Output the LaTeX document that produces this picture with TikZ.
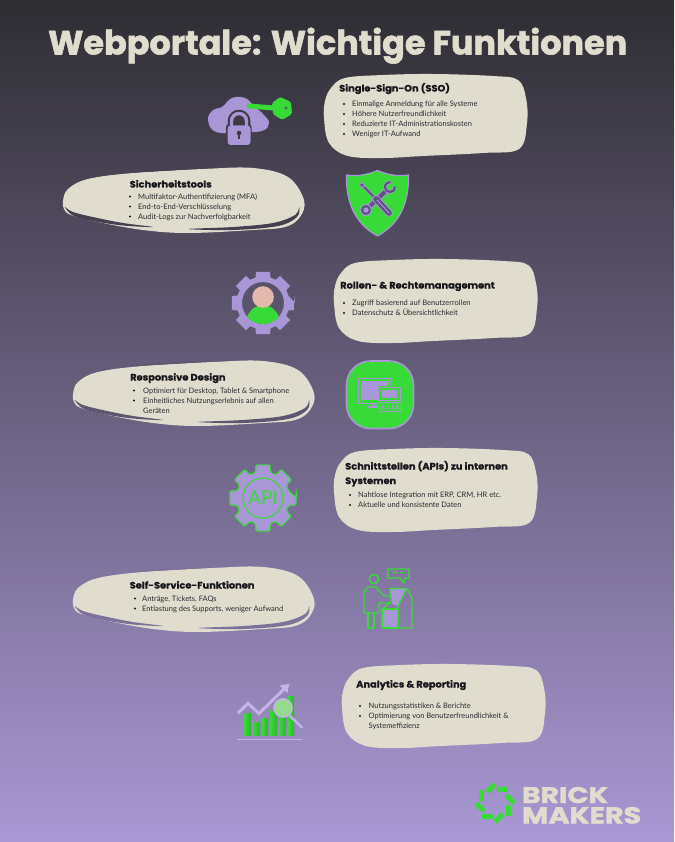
\documentclass[tikz,border=0pt]{standalone}
\usepackage{fontspec}
\setmainfont{Lato}
\newfontfamily\headfont{Poppins}[BoldFont=* Bold]
\newfontfamily\heavyfont{Poppins}[UprightFont=* Bold,FakeBold=1.6]
\newfontfamily\wideheavy{Poppins}[UprightFont=* Bold,FakeBold=0.9,FakeStretch=1.06]
\definecolor{bgtop}{HTML}{2E2D32}
\definecolor{bgbot}{HTML}{A998D4}
\definecolor{cream}{HTML}{E0DDCE}
\definecolor{lav}{HTML}{A996D6}
\definecolor{lavlight}{HTML}{C4B4EA}
\definecolor{grn}{HTML}{38DA38}
\definecolor{grndark}{HTML}{2DB52D}
\definecolor{ink}{HTML}{16161C}
\definecolor{body}{HTML}{2A282E}
\definecolor{toolc}{HTML}{5F5384}
\definecolor{skin}{HTML}{E3B9AE}
\definecolor{iconbg}{HTML}{3D3A44}
\tikzset{
 head/.style={anchor=base west,inner sep=0pt,font=\wideheavy\fontsize{9.3}{11}\selectfont,text=ink},
 itemtxt/.style={anchor=base west,inner sep=0pt,font=\fontsize{7.5}{10}\selectfont,text=body},
 bul/.style={circle,fill=ink,inner sep=0pt,minimum size=2.4pt},
}
\newcommand{\sqblob}[2]{%
 \fill[cream,shift={(#1,#2)}] plot[smooth cycle,tension=.6] coordinates {(8,15)(22,5)(60,2)(110,1)(170,3)(195,7)(203,25)(204,50)(196,76)(160,80)(100,83)(60,85)(25,83)(6,70)(1,45)(2,28)};}
\newcommand{\ovblob}[3]{%
 \begin{scope}[shift={(#1,#2)}]
 \fill[cream] plot[smooth cycle,tension=.6] coordinates {(0,34)(5,22)(25,12)(70,6)(140,2)(190,1)(225,10)(241,33)(237,50)(222,60)(190,63)(125,66)(80,63)(35,55)(8,48)(1,42)};
 \fill[#3] plot[smooth cycle,tension=.6] coordinates {(56,6)(90,2.8)(135,1.5)(100,4)};
 \fill[#3] plot[smooth cycle,tension=.6] coordinates {(2,40)(10,45)(32,50.5)(60,56)(90,60)(60,58.5)(30,54)(10,48.5)};
 \fill[#3] plot[smooth cycle,tension=.6] coordinates {(125,62)(170,60)(210,56)(232,48)(236,40)(234,50)(215,59)(170,63)};
 \end{scope}}
\newcommand{\mygear}[3]{% tip radius, base radius, half angle
 (0:#1)
 \foreach \a in {0,45,...,315}{
  -- (\a-#3:#1) -- (\a+#3:#1) -- (\a+#3+3:#2) -- (\a+45-#3-3:#2)
 } -- cycle}
\begin{document}
\begin{tikzpicture}[x=1pt,y=-1pt]
\useasboundingbox (0,0) rectangle (674,842);
\shade[top color=bgtop,bottom color=bgbot] (0,0) rectangle (674,842);

% title
\node[anchor=base west,inner sep=0pt,text=cream] (title) at (48,54.5) {\resizebox{579pt}{!}{\heavyfont Webportale: Wichtige Funktionen}};

% blobs
\sqblob{323}{73}
\ovblob{63}{167}{bgtop!82!bgbot}
\sqblob{333}{258}
\ovblob{73}{360}{bgtop!62!bgbot}
\sqblob{333}{447}
\ovblob{73}{566}{bgtop!35!bgbot}
\sqblob{341}{663}

% SSO
\node[head] (h1) at (339,91.5) {Single-Sign-On (SSO)};
\node[bul] (b11) at (344,104) {}; \node[itemtxt] (t11) at (352,106.7) {Einmalige Anmeldung für alle Systeme};
\node[bul] (b12) at (344,114) {}; \node[itemtxt] (t12) at (352,116.7) {Höhere Nutzerfreundlichkeit};
\node[bul] (b13) at (344,124) {}; \node[itemtxt] (t13) at (352,126.7) {Reduzierte IT-Administrationskosten};
\node[bul] (b14) at (344,134) {}; \node[itemtxt] (t14) at (352,136.7) {Weniger IT-Aufwand};
% Sicherheit
\node[head] (h2) at (129.5,187.5) {Sicherheitstools};
\node[bul] (b21) at (130,196.5) {}; \node[itemtxt] (t21) at (138,199.2) {Multifaktor-Authentifizierung (MFA)};
\node[bul] (b22) at (130,206.5) {}; \node[itemtxt] (t22) at (138,209.2) {End-to-End-Verschlüsselung};
\node[bul] (b23) at (130,216.5) {}; \node[itemtxt] (t23) at (138,219.2) {Audit-Logs zur Nachverfolgbarkeit};
% Rollen
\node[head] (h3) at (340,288.5) {Rollen- \& Rechtemanagement};
\node[bul] (b31) at (344,303) {}; \node[itemtxt] (t31) at (352,305.7) {Zugriff basierend auf Benutzerrollen};
\node[bul] (b32) at (344,313) {}; \node[itemtxt] (t32) at (352,315.7) {Datenschutz \& Übersichtlichkeit};
% Responsive
\node[head] (h4) at (130,380.5) {Responsive Design};
\node[bul] (b41) at (134,390.5) {}; \node[itemtxt] (t41) at (143,393.2) {Optimiert für Desktop, Tablet \& Smartphone};
\node[bul] (b42) at (134,400.5) {}; \node[itemtxt] (t42) at (143,403.2) {Einheitliches Nutzungserlebnis auf allen};
\node[itemtxt] (t43) at (143,413.2) {Geräten};
% API
\node[head] (h5) at (345,469.5) {Schnittstellen (APIs) zu internen};
\node[head] (h5b) at (345,484) {Systemen};
\node[bul] (b51) at (350,495) {}; \node[itemtxt] (t51) at (358,497.7) {Nahtlose Integration mit ERP, CRM, HR etc.};
\node[bul] (b52) at (350,505) {}; \node[itemtxt] (t52) at (358,507.7) {Aktuelle und konsistente Daten};
% Self-Service
\node[head] (h6) at (129.5,588.5) {Self-Service-Funktionen};
\node[bul] (b61) at (135,598.5) {}; \node[itemtxt] (t61) at (142,601.2) {Anträge, Tickets, FAQs};
\node[bul] (b62) at (135,608.5) {}; \node[itemtxt] (t62) at (142,611.2) {Entlastung des Supports, weniger Aufwand};
% Analytics
\node[head] (h7) at (356,687.5) {Analytics \& Reporting};
\node[bul] (b71) at (360,706) {}; \node[itemtxt] (t71) at (368.5,708.7) {Nutzungsstatistiken \& Berichte};
\node[bul] (b72) at (360,716) {}; \node[itemtxt] (t72) at (368.5,718.7) {Optimierung von Benutzerfreundlichkeit \&};
\node[itemtxt] (t73) at (368.5,728.7) {Systemeffizienz};

% ICON 1: cloud, lock, key
\fill[lav] plot[smooth cycle,tension=.7] coordinates {(208,120)(213,110)(222,107)(232,98)(245,98)(254,106)(263,114)(269,123)(262,131)(240,132)(216,132)};
\draw[grn,line width=5pt,line cap=round] (249,106) -- (274,108);
\fill[grn,rounded corners=1.5pt] (280,97) -- (291,102) -- (292,114) -- (282,120) -- (273,114) -- (272,103) -- cycle;
\fill[toolc] (286,108) circle (1.6);
% lock: dark halo, then shackle and body
\draw[iconbg,line width=7.5pt] (231.5,127) -- (231.5,121) arc (180:360:7.5) -- (246.5,127);
\fill[iconbg,rounded corners=3pt] (226,124) rectangle (251.5,146);
\fill[iconbg] (231.5,127) -- (231.5,121) arc (180:360:7.5) -- (246.5,127) -- cycle;
\draw[lav,line width=3.4pt] (231.5,127) -- (231.5,121) arc (180:360:7.5) -- (246.5,127);
\fill[lav,rounded corners=3pt] (227.5,125.5) rectangle (250.5,145);
\fill[iconbg] (239,133) circle (2.3);
\fill[iconbg] (238,134) rectangle (240,139.5);

% ICON 2: shield
\draw[line width=1.2pt,lav,fill=grn] (377.5,170.5) .. controls (367,175) and (357,176.5) .. (346.5,175) .. controls (346,198) and (352,222) .. (377.5,236) .. controls (403,222) and (409,198) .. (408.5,175) .. controls (398,176.5) and (388,175) .. cycle;
% wrench
\draw[lav,line width=6pt,line cap=round] (368,208) -- (386,191);
\draw[toolc,line width=4pt,line cap=round] (368,208) -- (386,191);
\draw[lav,line width=3.8pt] (395,186.6) arc (-5:275:5);
\draw[toolc,line width=2.2pt] (395,186.6) arc (-5:275:5);
\fill[lav] (366,210) circle (6);
\fill[toolc] (366,210) circle (5);
\fill[lav] (366,210) circle (2.6);
% screwdriver
\draw[lav,line width=3.2pt,line cap=round] (362,185) -- (375,198);
\draw[toolc,line width=1.8pt,line cap=round] (362,185) -- (375,198);
\fill[lav] (362,185) circle (2.7);
\fill[toolc] (362,185) circle (1.9);
\draw[lav,line width=7.5pt,line cap=round] (376,199) -- (389,213);
\draw[toolc,line width=5.6pt,line cap=round] (376,199) -- (389,213);
\draw[lav,line width=.9pt] (377,200) -- (389,213);

% ICON 3: user gear
\begin{scope}[shift={(263,303)}]
 \fill[lav,even odd rule] \mygear{32}{26.5}{13} (0,0) circle (21);
 \begin{scope}
  \clip (0,0) circle (21);
  \fill[grn] (0,21) ellipse (17 and 19);
 \end{scope}
 \fill[skin] (0,-6) circle (10.8);
\end{scope}

% ICON 4: devices
\draw[line width=1.6pt,lav,fill=grn,rounded corners=24pt] (346.5,361) rectangle (413.5,428.5);
\draw[lav,line width=.9pt] (358.5,378.5) rectangle (390,403);
\fill[lav] (361,381) rectangle (388,400);
\fill[lav] (371,403) rectangle (374.5,406);
\fill[lav] (368,406) rectangle (378,408);
\fill[grn] (377.5,386) rectangle (402,412.5);
\draw[lav,line width=.9pt] (378.5,387) rectangle (400.5,400.5);
\fill[lav] (382,390) rectangle (397,398);
\draw[lav,line width=.9pt] (379,402.5) rectangle (401.5,411.5);
\foreach \xx in {382,387,392,396.5}{\draw[lav,line width=.9pt] (\xx,404.5) -- (\xx+.8,408.5) -- (\xx+3,408.5);}

% ICON 5: API gear
\begin{scope}[shift={(263,498)}]
 \draw[grn,fill=lav,line width=1.1pt,rounded corners=2pt] \mygear{34}{26.5}{12.5};
 \draw[grn,line width=1.1pt] (0,0) circle (20);
 \node[text=grn,inner sep=0pt,font=\fontsize{19}{19}\selectfont] (apilabel) at (0,0) {API};
\end{scope}

% ICON 6: self service
\begin{scope}[grn,line width=1.3pt,line join=round]
 \draw (374,579) circle (4.6);
 \draw (388,569) -- (409,569) -- (409,578) -- (405,578) -- (404,583) -- (400,578) -- (388,578) -- cycle;
 \draw (392,572.8) -- (398,572.8) (400,572.8) -- (405,572.8);
 \fill[lav] (390,589) -- (406,589) -- (398,606) -- (392,604) -- cycle;
 \fill[lav] (382,609) rectangle (398,628);
 \draw (382,609) rectangle (398,628);
 \draw (398,628) -- (412,628) -- (412,598) -- (407,588.5) -- (390,588.5) -- (390,597);
 \draw (398,609) -- (398,606) -- (407,588.5);
 \draw (382,609) -- (390,603);
 \draw (364,613) -- (364,592) -- (368,587) -- (376,587) -- (383,595) -- (391,597) -- (391,603) -- (379,603) -- (379,613) -- cycle;
 \draw (368,613) -- (368,628) -- (374,628) -- (374,613);
\end{scope}

% ICON 7: analytics
\fill[lavlight!80!cream,opacity=.8] (237,738.5) rectangle (302,740);
\shade[left color=grn,right color=grndark] (244,713) rectangle (251,735);
\shade[left color=grn,right color=grndark] (253,722) rectangle (260,735);
\shade[left color=grn,right color=grndark] (262,718) rectangle (268,735);
\shade[left color=grn,right color=grndark] (270,710) rectangle (277,735);
\shade[left color=grn,right color=grndark] (279,717) rectangle (286,735);
\shade[left color=grn,right color=grndark] (288,696) rectangle (294,735);
\draw[lavlight,line width=3pt,line join=miter] (238,713) -- (248,703.5) -- (259,713.5) -- (284,689);
\fill[lavlight] (289,684) -- (287.5,693) -- (279.5,685.5) -- cycle;
\draw[lavlight,line width=2.4pt,line cap=round] (289,715) -- (302,727.5);
\draw[lavlight,line width=1.6pt,fill=grn!45!cream] (283,708) circle (9);

% LOGO
\foreach \a in {-105,-60,-15,30,75,120,165,210}{
 \fill[grn,shift={(495,803)},rotate=-\a,shift={(15.5,0)},rotate=-60] (-5.5,-2.5) rectangle (5.5,2.5);
}
\node[anchor=base west,inner sep=0pt,text=cream] (brick) at (522,803) {\resizebox{86pt}{16pt}{\heavyfont BRICK}};
\node[anchor=base west,inner sep=0pt,text=cream] (makers) at (522,823.5) {\resizebox{119pt}{16.5pt}{\heavyfont MAKERS}};
\end{tikzpicture}
\end{document}
